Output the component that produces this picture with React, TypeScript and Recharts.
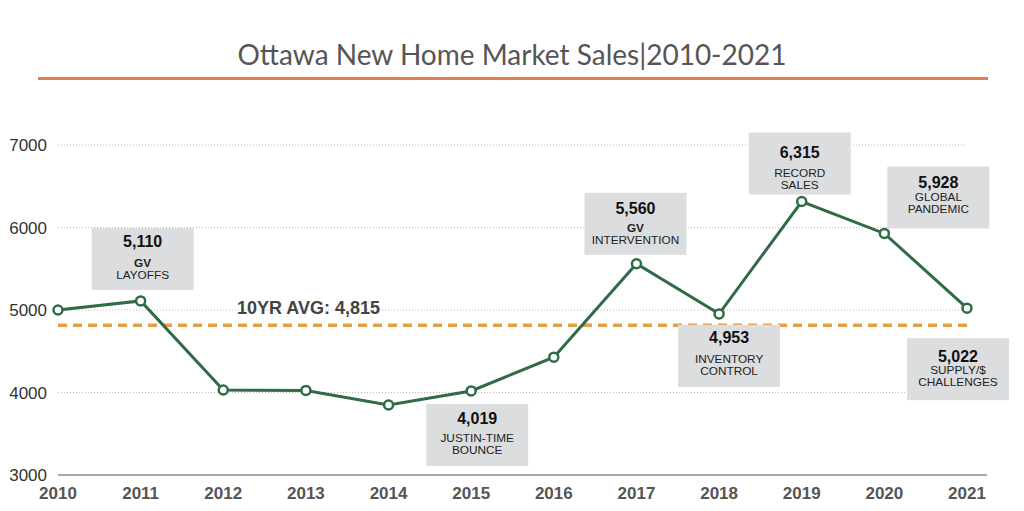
import React from 'react';
import { LineChart, Line, XAxis, YAxis, ReferenceLine } from 'recharts';

const years = ['2010', '2011', '2012', '2013', '2014', '2015', '2016', '2017', '2018', '2019', '2020', '2021'];
const sales = [5000, 5110, 4030, 4025, 3848, 4019, 4428, 5560, 4953, 6315, 5928, 5022];
const avgValue = 4815;
const avgLabel = '10YR AVG: 4,815';
const yTicks = [3000, 4000, 5000, 6000, 7000];
const gridValues = [4000, 5000, 6000, 7000];
const titleText = 'Ottawa New Home Market Sales|2010-2021';

const noteYears = ['2011', '2015', '2017', '2018', '2019', '2020', '2021'];
const noteValues = ['5,110', '4,019', '5,560', '4,953', '6,315', '5,928', '5,022'];
const noteLines = [
  ['GV', 'LAYOFFS'],
  ['JUSTIN-TIME', 'BOUNCE'],
  ['GV', 'INTERVENTION'],
  ['INVENTORY', 'CONTROL'],
  ['RECORD', 'SALES'],
  ['GLOBAL', 'PANDEMIC'],
  ['SUPPLY/$', 'CHALLENGES'],
];
const noteBoldFirst = [true, false, true, false, false, false, false];

// layout of annotation boxes relative to their point (pixels)
const noteDx = [-49, -45, -52, -41, -53, 3, -60];
const noteDy = [-73, 13, -71, 11, -69, -67, 30];
const noteValueY = [14, 15, 16, 13, 20, 16, 18];
const noteLineY = [35, 34, 35, 34, 40, 31, 32];

const data = years.map((y, i) => ({ year: y, sales: sales[i] }));

const FONT = '"Liberation Sans", Arial, Helvetica, sans-serif';

const renderNote = (props: any) => {
  const { x, y, index } = props;
  const year = years[index];
  const k = noteYears.indexOf(year);
  if (k < 0 || x == null || y == null) return <g key={`n-${index}`} />;
  const left = x + noteDx[k];
  const top = y + noteDy[k];
  const w = 102;
  const h = 62;
  const cx = left + w / 2;
  return (
    <g key={`n-${index}`}>
      <rect x={left} y={top} width={w} height={h} fill="#DCDDDE" />
      <text x={cx} y={top + noteValueY[k]} textAnchor="middle" dominantBaseline="central" fontFamily={FONT} fontWeight="bold" fontSize={16} fill="#111">
        {noteValues[k]}
      </text>
      {noteLines[k].map((ln, j) => (
        <text
          key={j}
          x={cx}
          y={top + noteLineY[k] + j * 12}
          textAnchor="middle"
          dominantBaseline="central"
          fontFamily={FONT}
          fontWeight={j === 0 && noteBoldFirst[k] ? 'bold' : 'normal'}
          fontSize={11.8}
          fill="#222"
        >
          {ln}
        </text>
      ))}
    </g>
  );
};

const renderAvgLabel = (props: any) => {
  const vb = props.viewBox || {};
  return (
    <text x={(vb.x || 0) + 179} y={(vb.y || 0) - 17} dominantBaseline="central" fontFamily={FONT} fontWeight="bold" fontSize={18} fill="#444">
      {avgLabel}
    </text>
  );
};

export default function App() {
  return (
    <div style={{ position: 'relative', width: 1024, height: 511, margin: '-8px 0 0 -8px', background: '#fff' }}>
      <div
        style={{
          position: 'absolute',
          left: 0,
          top: 36,
          width: 1024,
          textAlign: 'center',
          fontFamily: 'Lato, "Open Sans", sans-serif',
          fontSize: 28,
          color: '#555',
          lineHeight: '36px',
        }}
      >
        {titleText}
      </div>
      <div style={{ position: 'absolute', left: 38, top: 77, width: 950, height: 3, background: '#E2814F' }} />
      <LineChart width={1024} height={511} data={data} margin={{ top: 145, right: 37, bottom: 6, left: 0 }}>
        {gridValues.map((v) => (
          <ReferenceLine
            key={v}
            segment={[{ x: years[0], y: v }, { x: years[years.length - 1], y: v }]}
            stroke="#BBBBBB"
            strokeDasharray="1 2"
            strokeWidth={1}
          />
        ))}
        <XAxis
          dataKey="year"
          height={30}
          padding={{ left: 0, right: 20 }}
          tickLine={false}
          axisLine={{ stroke: '#555', strokeWidth: 1 }}
          tickMargin={6}
          tick={{ fontFamily: FONT, fontWeight: 'bold', fontSize: 17, fill: '#555' }}
          interval={0}
        />
        <YAxis
          width={58}
          domain={[3000, 7000]}
          ticks={yTicks}
          tickLine={false}
          axisLine={false}
          tickSize={0}
          tickMargin={11}
          tick={{ fontFamily: FONT, fontSize: 17, fill: '#333' }}
        />
        <ReferenceLine
          segment={[{ x: years[0], y: avgValue }, { x: years[years.length - 1], y: avgValue }]}
          stroke="#E6A043"
          strokeWidth={3.5}
          strokeDasharray="9 6"
          label={renderAvgLabel}
        />
        <Line
          type="linear"
          dataKey="sales"
          stroke="#2F6B45"
          strokeWidth={3}
          dot={{ r: 4.5, fill: '#fff', stroke: '#2F6B45', strokeWidth: 2.5 }}
          isAnimationActive={false}
          label={renderNote}
        />
      </LineChart>
    </div>
  );
}
